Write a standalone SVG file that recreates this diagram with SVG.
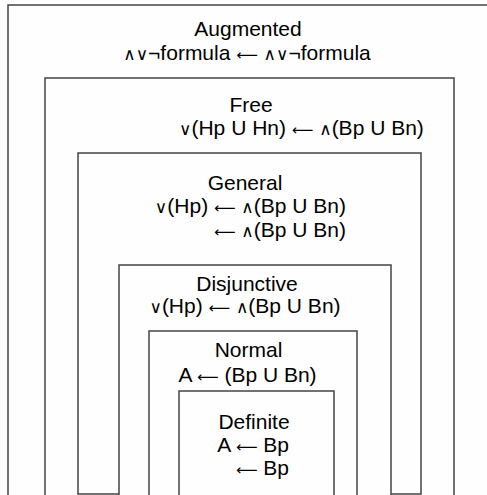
<svg xmlns="http://www.w3.org/2000/svg" width="487" height="495" viewBox="0 0 487 495">
<style>
.box{fill:#fefefe;stroke:#444;stroke-width:1.5}
.t{font-family:"Liberation Sans",Arial,"DejaVu Sans",sans-serif;font-size:21px;fill:#000;text-anchor:middle}
.e{text-anchor:end}
.s{text-anchor:start}
.a{font-family:"DejaVu Sans",sans-serif;font-size:15px}
.o{font-family:"DejaVu Sans",sans-serif;font-size:17px}
</style>
<rect x="0" y="0" width="487" height="495" fill="#fefefe"/>
<g id="augmented">
<rect class="box" x="8" y="5" width="490" height="500"/>
<text class="t" x="248" y="36">Augmented</text>
<text class="t" x="247" y="60"><tspan class="o">∧∨</tspan>¬formula <tspan class="a">⟵</tspan> <tspan class="o">∧∨</tspan>¬formula</text>
</g>
<g id="free">
<rect class="box" x="45" y="78" width="409" height="430"/>
<text class="t" x="251" y="112">Free</text>
<text class="t s" x="179" y="135"><tspan class="o">∨</tspan>(Hp U Hn) <tspan class="a">⟵</tspan> <tspan class="o">∧</tspan>(Bp U Bn)</text>
</g>
<g id="general">
<rect class="box" x="78" y="153" width="343" height="341"/>
<text class="t" x="245" y="190">General</text>
<text class="t e" x="346" y="213"><tspan class="o">∨</tspan>(Hp) <tspan class="a">⟵</tspan> <tspan class="o">∧</tspan>(Bp U Bn)</text>
<text class="t e" x="346" y="237"><tspan class="a">⟵</tspan> <tspan class="o">∧</tspan>(Bp U Bn)</text>
</g>
<g id="disjunctive">
<rect class="box" x="119" y="265" width="272" height="260"/>
<text class="t" x="247" y="291">Disjunctive</text>
<text class="t" x="245" y="313"><tspan class="o">∨</tspan>(Hp) <tspan class="a">⟵</tspan> <tspan class="o">∧</tspan>(Bp U Bn)</text>
</g>
<g id="normal">
<rect class="box" x="149" y="331" width="208" height="200"/>
<text class="t" x="248.5" y="357">Normal</text>
<text class="t" x="247.5" y="382">A <tspan class="a">⟵</tspan> (Bp U Bn)</text>
</g>
<g id="definite">
<rect class="box" x="179" y="391" width="155" height="140"/>
<text class="t" x="254" y="429">Definite</text>
<text class="t e" x="289" y="452">A <tspan class="a">⟵</tspan> Bp</text>
<text class="t e" x="289" y="475"><tspan class="a">⟵</tspan> Bp</text>
</g>
<g id="connectors"/>
</svg>
